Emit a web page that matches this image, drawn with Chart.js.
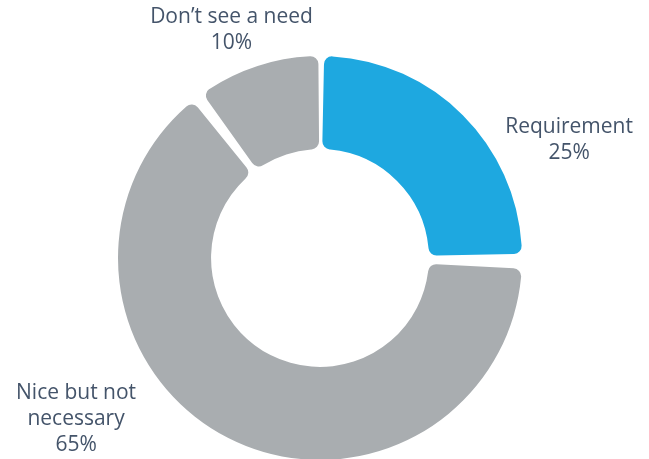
<!DOCTYPE html>
<html>
<head>
<meta charset="utf-8">
<script src="https://cdn.jsdelivr.net/npm/chart.js@4/dist/chart.umd.min.js"></script>
<style>
html,body{margin:0;padding:0;background:#fff;overflow:hidden;}
#wrap{width:649px;height:470px;}
</style>
</head>
<body>
<div id="wrap"><canvas id="c" width="649" height="470"></canvas></div>
<script>
const categories = ["Requirement", "Nice but not necessary", "Don\u2019t see a need"];
const values = [25, 65, 10];
const labelLines = [["Requirement", "25%"], ["Nice but not", "necessary", "65%"], ["Don\u2019t see a need", "10%"]];
const colors = ["#1ea8e0", "#a9adb0", "#a9adb0"];
// label centre offsets relative to doughnut centre, in units of outer radius
const labelOffsets = [[1.258, -0.596], [-1.232, 0.813], [-0.447, -1.152]];

const labelPlugin = {
  id: 'outLabels',
  afterDatasetsDraw(chart) {
    const meta = chart.getDatasetMeta(0);
    const ctx = chart.ctx;
    ctx.save();
    ctx.fillStyle = '#44546a';
    ctx.font = '21px "Open Sans"';
    ctx.textAlign = 'center';
    ctx.textBaseline = 'middle';
    const lh = 26;
    meta.data.forEach((arc, i) => {
      const r = arc.outerRadius;
      const cx = arc.x + labelOffsets[i][0] * r;
      const cy = arc.y + labelOffsets[i][1] * r;
      const lines = labelLines[i];
      const start = cy - (lines.length - 1) * lh / 2;
      lines.forEach((t, k) => ctx.fillText(t, cx, start + k * lh));
    });
    ctx.restore();
  }
};

new Chart(document.getElementById('c'), {
  type: 'doughnut',
  data: {
    labels: categories,
    datasets: [{
      data: values,
      backgroundColor: colors,
      borderWidth: 0,
      borderRadius: 8,
      spacing: 8
    }]
  },
  options: {
    responsive: false,
    animation: false,
    cutout: '53%',
    layout: { padding: { left: 118, right: 127, top: 56, bottom: 10 } },
    plugins: { legend: { display: false }, tooltip: { enabled: false } }
  },
  plugins: [labelPlugin]
});
</script>
</body>
</html>
